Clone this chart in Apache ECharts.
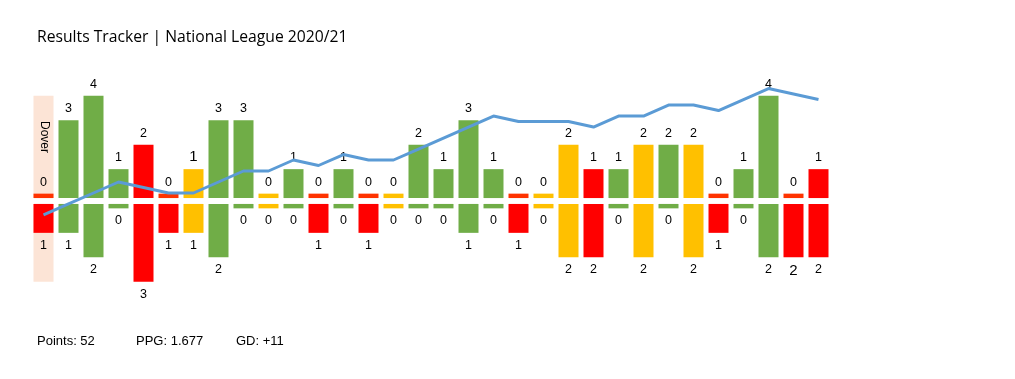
<!DOCTYPE html>
<html>
<head>
<meta charset="utf-8">
<script src="https://cdn.jsdelivr.net/npm/echarts@6/dist/echarts.min.js"></script>
<style>
html,body{margin:0;padding:0;background:#fff;}
#chart{width:1015px;height:379px;}
</style>
</head>
<body>
<div id="chart"></div>
<script>
// ---- data ----
const matches = ['Dover','2','3','4','5','6','7','8','9','10','11','12','13','14','15','16','17','18','19','20','21','22','23','24','25','26','27','28','29','30','31','32'];
const goalsFor     = [0,3,4,1,2,0,1,3,3,0,1,0,1,0,0,2,1,3,1,0,0,2,1,1,2,2,2,0,1,4,0,1];
const goalsAgainst = [1,1,2,0,3,1,1,2,0,0,0,1,0,1,0,0,0,1,0,1,0,2,2,0,2,0,2,1,0,2,2,2];
const results = ['L','W','W','W','L','L','D','W','W','D','W','L','W','L','D','W','W','W','W','L','D','D','L','W','D','W','D','L','W','W','L','L'];
const trend = [-1,1,3,5,4,3,3,5,7,7,9,8,10,9,9,11,13,15,17,16,16,16,15,17,17,19,19,18,20,22,21,20];
const expungedUp   = [4,'-','-','-','-','-','-','-','-','-','-','-','-','-','-','-','-','-','-','-','-','-','-','-','-','-','-','-','-','-','-','-'];
const expungedDown = [3,'-','-','-','-','-','-','-','-','-','-','-','-','-','-','-','-','-','-','-','-','-','-','-','-','-','-','-','-','-','-','-'];
const titleText = 'Results Tracker | National League 2020/21';
const summary = ['Points: 52', 'PPG: 1.677', 'GD: +11'];
const expungedLabel = 'Dover';

// ---- styling helpers ----
const GAP = 0.12, STUB = 0.18;
const colorOf = {W:'#70AD47', D:'#FFC000', L:'#FF0000'};
const FONT = '"Liberation Sans", Arial, sans-serif';
const bigTop = {6:true};
const bigBottom = {30:true};

const gapUp = matches.map(() => GAP);
const gapDn = matches.map(() => -GAP);

const forData = goalsFor.map((g, i) => ({
  value: g + STUB,
  itemStyle: {color: (g === 0 && results[i] === 'L') ? '#FF3300' : colorOf[results[i]]},
  label: bigTop[i] ? {fontSize: 15} : undefined
}));
const againstData = goalsAgainst.map((g, i) => ({
  value: -(g + STUB),
  itemStyle: {color: colorOf[results[i]]},
  label: bigBottom[i] ? {fontSize: 15} : undefined
}));

const bandUp = expungedUp.map(v => v === '-' ? '-' : v + STUB);
const bandDn = expungedDown.map(v => v === '-' ? '-' : -(v + STUB));
const bandGapUp = expungedUp.map(v => v === '-' ? '-' : GAP);
const bandGapDn = expungedDown.map(v => v === '-' ? '-' : -GAP);

const base = {type:'bar', barWidth:'80%', barGap:'-100%', silent:true, animation:false};
const clear = {color:'rgba(0,0,0,0)'};

const chart = echarts.init(document.getElementById('chart'));
chart.setOption({
  animation: false,
  backgroundColor: '#fff',
  title: {
    text: titleText, left: 32, top: 25,
    textStyle: {fontFamily: '"Open Sans", sans-serif', fontSize: 15.7, fontWeight: 'normal', color: '#000'}
  },
  grid: {left: 31, width: 800, top: 78.5, height: 245},
  xAxis: {type:'category', data: matches, show: false},
  yAxis: [
    {type:'value', min:-5, max:5, show:false},
    {type:'value', min:-20.73, max:23.82, show:false}
  ],
  graphic: [
    {type:'text', x:44, y:137, z:100, rotation:-Math.PI/2,
     style:{text: expungedLabel, font:'12px ' + FONT, fill:'#000', align:'center', verticalAlign:'middle'}},
    {type:'text', x:37, y:341, z:100, style:{text: summary[0], font:'13px ' + FONT, fill:'#000', verticalAlign:'middle'}},
    {type:'text', x:136, y:341, z:100, style:{text: summary[1], font:'13px ' + FONT, fill:'#000', verticalAlign:'middle'}},
    {type:'text', x:236, y:341, z:100, style:{text: summary[2], font:'13px ' + FONT, fill:'#000', verticalAlign:'middle'}}
  ],
  series: [
    Object.assign({}, base, {name:'bgu', stack:'band+', data: bandGapUp, itemStyle: clear}),
    Object.assign({}, base, {name:'bu', stack:'band+', data: bandUp, itemStyle:{color:'#FCE4D6'}}),
    Object.assign({}, base, {name:'bgd', stack:'band-', data: bandGapDn, itemStyle: clear}),
    Object.assign({}, base, {name:'bd', stack:'band-', data: bandDn, itemStyle:{color:'#FCE4D6'}}),
    Object.assign({}, base, {name:'gu', stack:'up', data: gapUp, itemStyle: clear}),
    Object.assign({}, base, {name:'Goals for', stack:'up', data: forData,
      label:{show:true, position:'top', distance:5, fontFamily:FONT, fontSize:12.5, color:'#000',
        formatter: p => String(goalsFor[p.dataIndex])}}),
    Object.assign({}, base, {name:'gd', stack:'dn', data: gapDn, itemStyle: clear}),
    Object.assign({}, base, {name:'Goals against', stack:'dn', data: againstData,
      label:{show:true, position:'bottom', distance:6, fontFamily:FONT, fontSize:12.5, color:'#000',
        formatter: p => String(goalsAgainst[p.dataIndex])}}),
    {type:'line', name:'Trend', yAxisIndex:1, data: trend, symbol:'none', z:5, silent:true,
     lineStyle:{color:'#5B9BD5', width:3}, animation:false}
  ]
});
</script>
</body>
</html>
